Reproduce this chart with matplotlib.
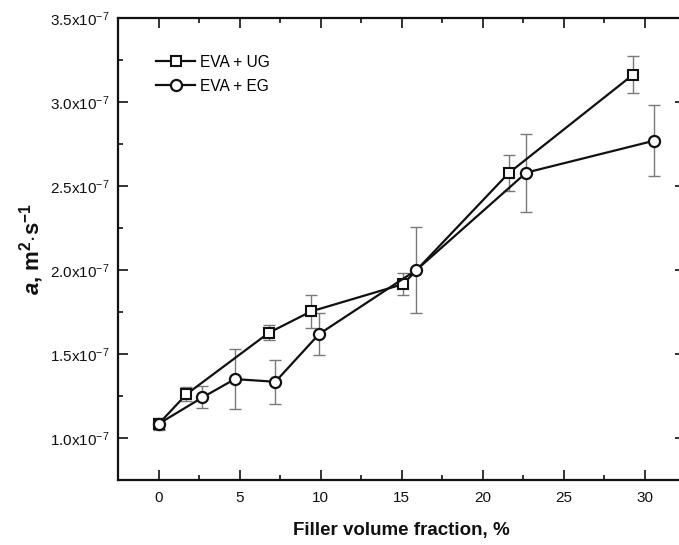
import numpy as np
import matplotlib
matplotlib.use("Agg")
import matplotlib.pyplot as plt
from matplotlib.ticker import MultipleLocator, FuncFormatter

plt.rcParams['font.family'] = ['Liberation Sans', 'DejaVu Sans']
plt.rcParams['mathtext.fontset'] = 'custom'
plt.rcParams['mathtext.rm'] = 'Liberation Sans'
plt.rcParams['mathtext.it'] = 'Liberation Sans:italic'
plt.rcParams['mathtext.bf'] = 'Liberation Sans:bold'
plt.rcParams['mathtext.bfit'] = 'Liberation Sans:bold:italic'

# EVA + UG (squares)
ug_x = [0.0, 1.7, 6.8, 9.4, 15.1, 21.6, 29.3]
ug_a = np.array([1.085, 1.26, 1.627, 1.754, 1.917, 2.577, 3.165]) * 1e-7
ug_err = np.array([0.035, 0.042, 0.045, 0.096, 0.064, 0.107, 0.11]) * 1e-7

# EVA + EG (circles)
eg_x = [0.0, 2.7, 4.7, 7.2, 9.9, 15.9, 22.7, 30.6]
eg_a = np.array([1.085, 1.242, 1.351, 1.335, 1.619, 2.0, 2.581, 2.771]) * 1e-7
eg_err = np.array([0.03, 0.065, 0.18, 0.132, 0.126, 0.258, 0.232, 0.21]) * 1e-7

labels = ['EVA + UG', 'EVA + EG']

fig = plt.figure(figsize=(6.79, 5.45), dpi=100)
ax = fig.add_axes([118.3 / 679, 1 - 480 / 545, (685 - 118.3) / 679, (480 - 18.3) / 545])

ax.errorbar(ug_x, ug_a, yerr=ug_err, fmt='none', ecolor='#7a7a7a',
            elinewidth=1.0, capsize=4, capthick=1.0, zorder=2)
ax.errorbar(eg_x, eg_a, yerr=eg_err, fmt='none', ecolor='#7a7a7a',
            elinewidth=1.0, capsize=4, capthick=1.0, zorder=2)
ax.plot(ug_x, ug_a, color='#111111', lw=1.6, marker='s', ms=7,
        mfc='white', mec='#111111', mew=1.5, label=labels[0], zorder=3)
ax.plot(eg_x, eg_a, color='#111111', lw=1.6, marker='o', ms=8,
        mfc='white', mec='#111111', mew=1.6, label=labels[1], zorder=3)

ax.set_xlim(-2.5, 32.5)
ax.set_ylim(0.75e-7, 3.5e-7)
ax.xaxis.set_major_locator(MultipleLocator(5))
ax.xaxis.set_minor_locator(MultipleLocator(2.5))
ax.yaxis.set_major_locator(MultipleLocator(0.5e-7))
ax.yaxis.set_minor_locator(MultipleLocator(0.25e-7))


def sci(v, pos):
    return r'%.1fx10$^{-7}$' % (v / 1e-7)


ax.yaxis.set_major_formatter(FuncFormatter(sci))

ax.tick_params(which='both', direction='in', top=True, right=True, width=1.2,
               labelsize=11, colors='#111111')
ax.tick_params(which='major', length=7, pad=8)
ax.tick_params(which='minor', length=3.5)
ax.tick_params(axis='y', pad=6)
for s in ax.spines.values():
    s.set_linewidth(1.6)
    s.set_color('#111111')

ax.set_xlabel('Filler volume fraction, %', fontsize=13.5, fontweight='bold',
              labelpad=12, color='#111111')
ax.set_ylabel(r'$\mathbfit{a}$, m$^{\mathbf{2}}$$\mathbf{\cdot}$s$^{\mathbf{-1}}$',
              fontsize=16, fontweight='bold', labelpad=3, color='#111111')

ax.legend(loc='upper left', bbox_to_anchor=(0.056, 0.935), frameon=False,
          fontsize=11.2, handlelength=2.5, handletextpad=0.3, labelspacing=0.6,
          borderaxespad=0)

fig.savefig('out.png', dpi=100)
